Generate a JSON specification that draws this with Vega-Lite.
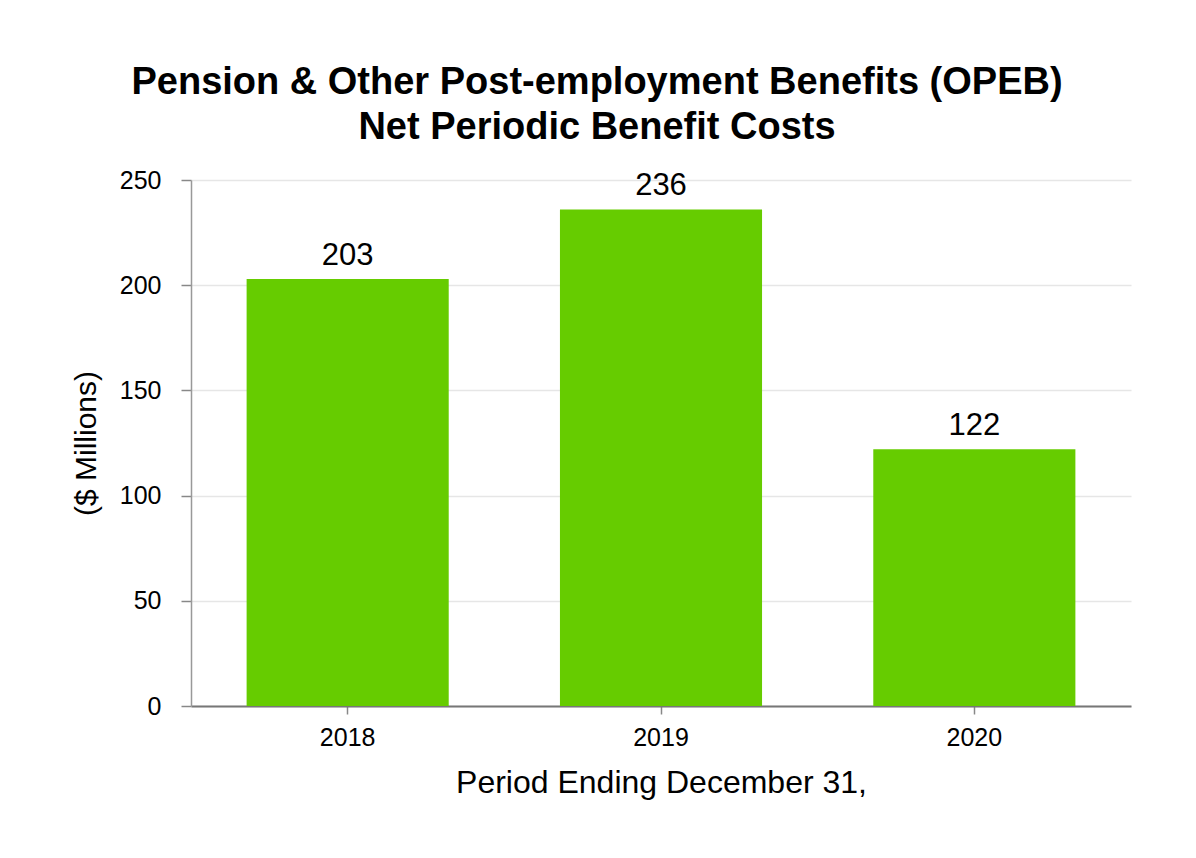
{
  "$schema": "https://vega.github.io/schema/vega-lite/v6.json",
  "autosize": "none",
  "width": 940,
  "height": 526,
  "padding": {"left": 191, "top": 180, "right": 65, "bottom": 152},
  "background": "white",
  "title": {
    "text": ["Pension & Other Post-employment Benefits (OPEB)", "Net Periodic Benefit Costs"],
    "font": "Liberation Sans",
    "fontSize": 38,
    "fontWeight": "bold",
    "color": "black",
    "anchor": "middle",
    "dx": -64,
    "lineHeight": 45,
    "offset": 21
  },
  "config": {
    "view": {"stroke": null},
    "font": "Liberation Sans"
  },
  "data": {
    "values": [
      {"year": "2018", "cost": 203},
      {"year": "2019", "cost": 236},
      {"year": "2020", "cost": 122}
    ]
  },
  "encoding": {
    "x": {
      "field": "year",
      "type": "nominal",
      "title": "Period Ending December 31,",
      "scale": {"paddingInner": 0.355, "paddingOuter": 0.1775},
      "axis": {
        "labelAngle": 0,
        "labelFontSize": 25,
        "labelColor": "black",
        "labelPadding": 11,
        "titleFontSize": 32,
        "titleFontWeight": "normal",
        "titleColor": "black",
        "titlePadding": 17,
        "domainColor": "#777777",
        "domainWidth": 2,
        "tickColor": "#888888",
        "tickSize": 8,
        "tickWidth": 1.5
      }
    },
    "y": {
      "field": "cost",
      "type": "quantitative",
      "title": "($ Millions)",
      "scale": {"domain": [0, 250]},
      "axis": {
        "values": [0, 50, 100, 150, 200, 250],
        "labelFontSize": 25,
        "labelColor": "black",
        "labelPadding": 20,
        "titleFontSize": 30,
        "titleFontWeight": "normal",
        "titleColor": "black",
        "titlePadding": 18,
        "domainColor": "#999999",
        "domainWidth": 1.5,
        "tickColor": "#888888",
        "tickSize": 10,
        "tickWidth": 1.5,
        "gridColor": "#e6e6e6",
        "gridWidth": 1.5
      }
    }
  },
  "layer": [
    {"mark": {"type": "bar", "color": "#66cc00"}},
    {
      "mark": {"type": "text", "baseline": "alphabetic", "dy": -14, "fontSize": 31, "color": "black"},
      "encoding": {"text": {"field": "cost", "type": "quantitative"}}
    }
  ]
}
